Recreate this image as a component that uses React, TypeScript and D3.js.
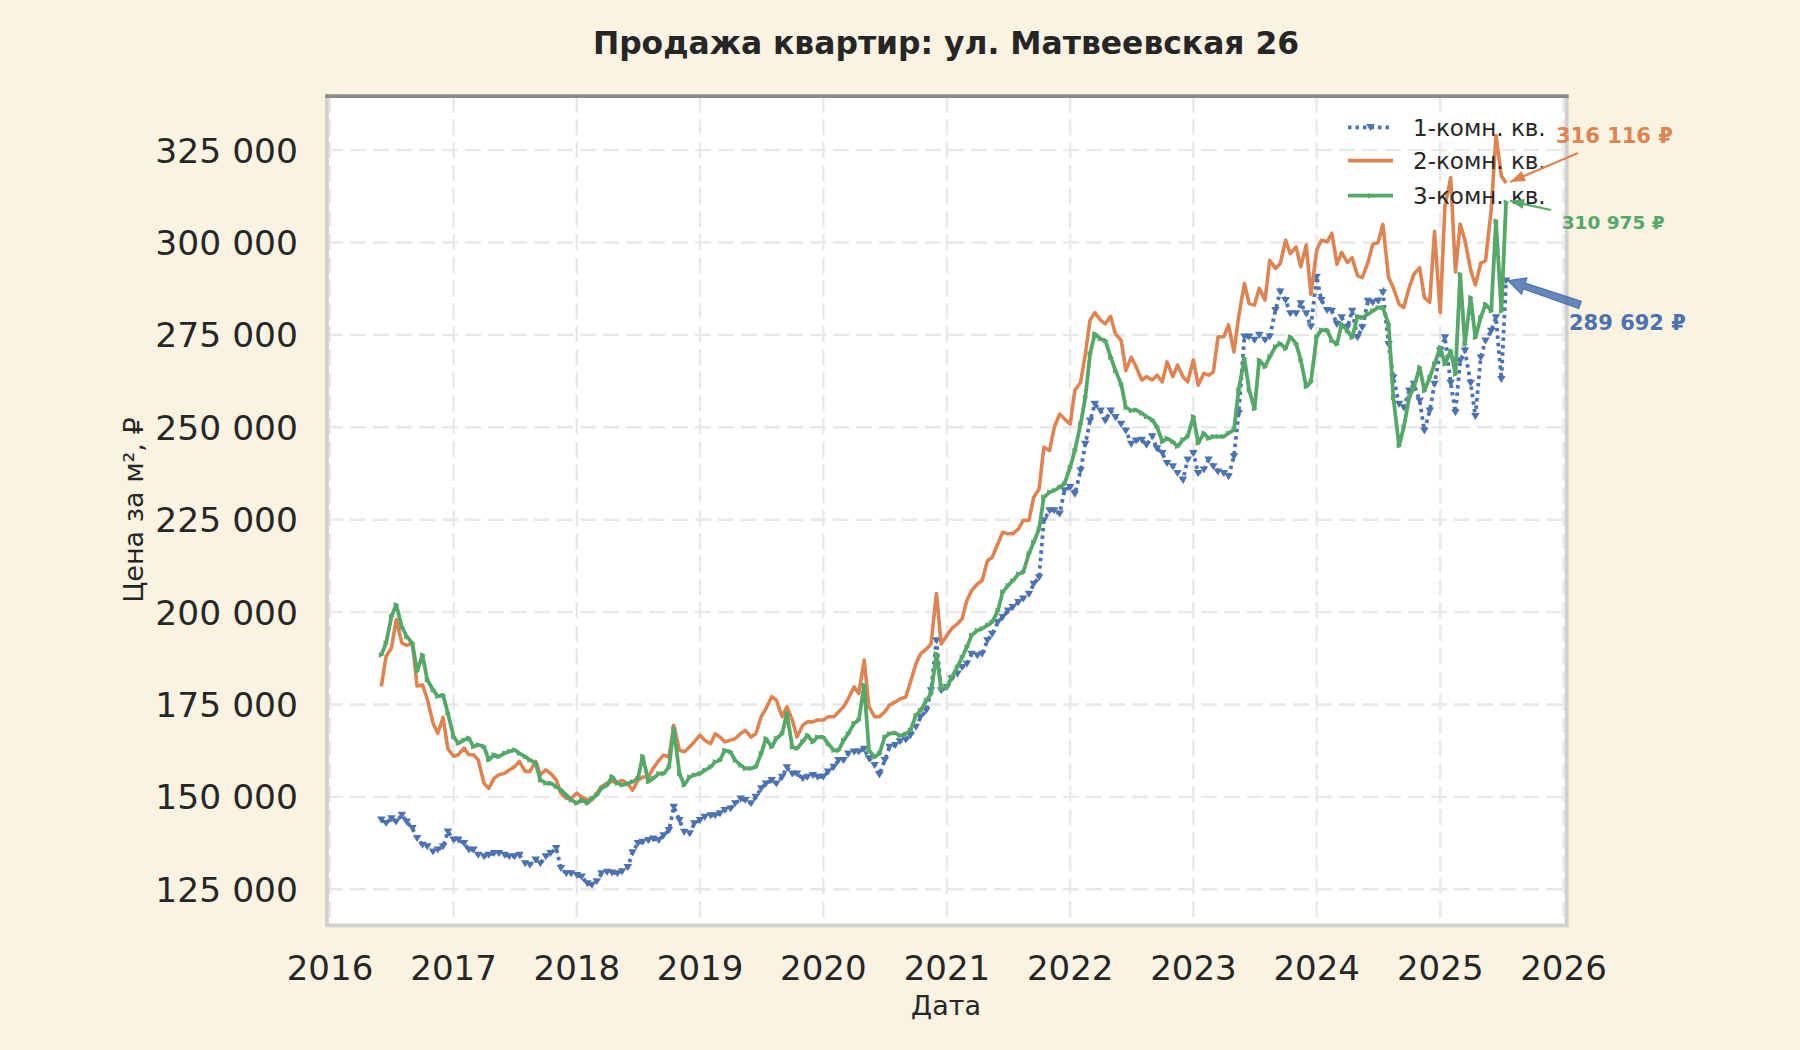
import * as d3 from 'd3';

// half-month observation dates
const dates = [
  '2016-06-01', '2016-06-15', '2016-07-01', '2016-07-15', '2016-08-01', '2016-08-15', '2016-09-01', '2016-09-15', '2016-10-01', '2016-10-15', '2016-11-01', '2016-11-15', '2016-12-01', '2016-12-15',
  '2017-01-01', '2017-01-15', '2017-02-01', '2017-02-15', '2017-03-01', '2017-03-15', '2017-04-01', '2017-04-15', '2017-05-01', '2017-05-15', '2017-06-01', '2017-06-15', '2017-07-01', '2017-07-15', '2017-08-01', '2017-08-15', '2017-09-01', '2017-09-15', '2017-10-01', '2017-10-15', '2017-11-01', '2017-11-15', '2017-12-01', '2017-12-15',
  '2018-01-01', '2018-01-15', '2018-02-01', '2018-02-15', '2018-03-01', '2018-03-15', '2018-04-01', '2018-04-15', '2018-05-01', '2018-05-15', '2018-06-01', '2018-06-15', '2018-07-01', '2018-07-15', '2018-08-01', '2018-08-15', '2018-09-01', '2018-09-15', '2018-10-01', '2018-10-15', '2018-11-01', '2018-11-15', '2018-12-01', '2018-12-15',
  '2019-01-01', '2019-01-15', '2019-02-01', '2019-02-15', '2019-03-01', '2019-03-15', '2019-04-01', '2019-04-15', '2019-05-01', '2019-05-15', '2019-06-01', '2019-06-15', '2019-07-01', '2019-07-15', '2019-08-01', '2019-08-15', '2019-09-01', '2019-09-15', '2019-10-01', '2019-10-15', '2019-11-01', '2019-11-15', '2019-12-01', '2019-12-15',
  '2020-01-01', '2020-01-15', '2020-02-01', '2020-02-15', '2020-03-01', '2020-03-15', '2020-04-01', '2020-04-15', '2020-05-01', '2020-05-15', '2020-06-01', '2020-06-15', '2020-07-01', '2020-07-15', '2020-08-01', '2020-08-15', '2020-09-01', '2020-09-15', '2020-10-01', '2020-10-15', '2020-11-01', '2020-11-15', '2020-12-01', '2020-12-15',
  '2021-01-01', '2021-01-15', '2021-02-01', '2021-02-15', '2021-03-01', '2021-03-15', '2021-04-01', '2021-04-15', '2021-05-01', '2021-05-15', '2021-06-01', '2021-06-15', '2021-07-01', '2021-07-15', '2021-08-01', '2021-08-15', '2021-09-01', '2021-09-15', '2021-10-01', '2021-10-15', '2021-11-01', '2021-11-15', '2021-12-01', '2021-12-15',
  '2022-01-01', '2022-01-15', '2022-02-01', '2022-02-15', '2022-03-01', '2022-03-15', '2022-04-01', '2022-04-15', '2022-05-01', '2022-05-15', '2022-06-01', '2022-06-15', '2022-07-01', '2022-07-15', '2022-08-01', '2022-08-15', '2022-09-01', '2022-09-15', '2022-10-01', '2022-10-15', '2022-11-01', '2022-11-15', '2022-12-01', '2022-12-15',
  '2023-01-01', '2023-01-15', '2023-02-01', '2023-02-15', '2023-03-01', '2023-03-15', '2023-04-01', '2023-04-15', '2023-05-01', '2023-05-15', '2023-06-01', '2023-06-15', '2023-07-01', '2023-07-15', '2023-08-01', '2023-08-15', '2023-09-01', '2023-09-15', '2023-10-01', '2023-10-15', '2023-11-01', '2023-11-15', '2023-12-01', '2023-12-15',
  '2024-01-01', '2024-01-15', '2024-02-01', '2024-02-15', '2024-03-01', '2024-03-15', '2024-04-01', '2024-04-15', '2024-05-01', '2024-05-15', '2024-06-01', '2024-06-15', '2024-07-01', '2024-07-15', '2024-08-01', '2024-08-15', '2024-09-01', '2024-09-15', '2024-10-01', '2024-10-15', '2024-11-01', '2024-11-15', '2024-12-01', '2024-12-15',
  '2025-01-01', '2025-01-15', '2025-02-01', '2025-02-15', '2025-03-01', '2025-03-15', '2025-04-01', '2025-04-15', '2025-05-01', '2025-05-15', '2025-06-01', '2025-06-15', '2025-07-01', '2025-07-15',
];

// 1-комн. кв., руб/м²
const oneRoom = [
  143800, 142900, 144200, 143300, 145100, 143300, 141500, 138800, 137000, 136600, 135200, 135700, 136600, 140600,
  138400, 138400, 137500, 135700, 135700, 134300, 133900, 134300, 134800, 134800, 134300, 133900, 133900, 134300, 132000, 131600, 133000, 132000, 133900, 134800, 136100, 130700, 129300, 129300,
  128800, 128400, 126600, 126200, 127100, 129300, 129700, 129500, 129300, 129800, 131000, 135000, 137500, 137800, 138300, 138700, 138300, 139600, 141000, 147300, 143700, 140500, 140100, 142800,
  143700, 144600, 145000, 145000, 145500, 146400, 146800, 148200, 149500, 149100, 148200, 150000, 152300, 153600, 154500, 153600, 155400, 158000, 156300, 156300, 155000, 155400, 155900, 155400,
  155400, 156800, 158100, 159900, 159900, 161700, 162200, 162200, 163000, 160400, 158600, 156000, 159900, 163500, 164000, 165000, 165500, 166600, 168900, 171600, 173400, 178800, 192300, 178800,
  179700, 182000, 183300, 185100, 186000, 188700, 188300, 188700, 192300, 194100, 197300, 198600, 200400, 201300, 202700, 203600, 204900, 207600, 209400, 224800, 227500, 227500, 226600, 232900,
  233800, 232000, 238300, 245500, 251800, 256300, 254500, 251800, 254500, 252700, 250900, 249100, 245500, 246400, 246600, 245200, 247500, 244300, 243000, 240300, 239400, 237600, 235800, 241200,
  243000, 237600, 238500, 241200, 239400, 238000, 237600, 236700, 242100, 253800, 274500, 274500, 273600, 275000, 273600, 274500, 281700, 286700, 284400, 280800, 280800, 283500, 280800, 277200,
  290700, 284400, 281700, 281500, 277900, 279700, 277000, 281500, 274300, 277000, 284200, 283800, 284200, 286500, 272500, 263500, 256300, 255400, 259900, 261700, 257200, 249100, 254500, 261700,
  270700, 274300, 262000, 254000, 268000, 270700, 262000, 253000, 268900, 273400, 276100, 279700, 263000, 289692,
];

// 2-комн. кв., руб/м²
const twoRoom = [
  179900, 188000, 190300, 198000, 191600, 191000, 191600, 180000, 180300, 176500, 170000, 167200, 171500, 163000,
  161000, 161400, 163200, 161400, 161400, 160000, 153700, 152300, 155000, 156000, 156400, 157300, 158200, 159600, 156900, 156900, 159600, 156000, 157300, 156400, 154600, 151000, 149600, 149600,
  151000, 150000, 149200, 149200, 151000, 152800, 153700, 154200, 153800, 154500, 153600, 151800, 154500, 155400, 155400, 157700, 159900, 161300, 160800, 169400, 162600, 162200, 163500, 164900,
  166700, 165300, 164400, 167100, 166200, 164900, 165300, 165800, 167100, 168000, 166200, 167100, 171700, 173900, 177100, 176200, 171700, 174400, 170800, 166200, 169400, 170300, 170300, 170800,
  170800, 171700, 171700, 173000, 174400, 176600, 179800, 178000, 187000, 174400, 171700, 171700, 173000, 174800, 175700, 176500, 177000, 181000, 186000, 188700, 190000, 191400, 205000, 191400,
  193700, 195500, 196800, 198200, 203100, 205800, 207600, 208500, 213900, 214800, 218500, 221600, 221200, 221200, 222500, 224800, 224800, 231100, 233300, 244600, 243700, 250000, 253600, 252300,
  250900, 260000, 262200, 269900, 279000, 281000, 279000, 278000, 280000, 275300, 273500, 265400, 269000, 266400, 262800, 263700, 262800, 264100, 262300, 267700, 263700, 266800, 263700, 262300,
  268200, 261400, 264600, 264100, 265000, 274500, 274500, 277700, 270400, 279900, 288900, 283500, 283100, 287600, 284400, 295200, 293000, 294300, 300600, 297000, 298800, 293400, 299300, 286000,
  297900, 300600, 300200, 302500, 294100, 297300, 294600, 295900, 291000, 290500, 294600, 299500, 300000, 304900, 290500, 287800, 283300, 282400, 287800, 291400, 293200, 285100, 283800, 303000,
  281000, 310000, 317500, 292000, 305000, 300700, 292600, 288500, 294400, 295000, 308800, 329000, 318000, 316116,
];

// 3-комн. кв., руб/м²
const threeRoom = [
  188400, 191600, 198800, 202000, 196000, 193400, 191600, 184000, 188400, 181700, 179000, 177200, 177500, 172700,
  166300, 164500, 165400, 165900, 163600, 164100, 163600, 160000, 161400, 160900, 161800, 162300, 162700, 161800, 160900, 160000, 159100, 154600, 153700, 153700, 152800, 151900, 150500, 149200,
  148300, 149200, 148300, 149600, 150500, 152300, 153200, 155500, 153700, 153200, 153600, 154100, 155000, 161000, 154100, 155000, 156300, 156300, 158100, 168500, 156300, 153200, 155400, 155900,
  156300, 157200, 158100, 159500, 159900, 162600, 162200, 159900, 158600, 157700, 157700, 158100, 161700, 165800, 163500, 165800, 167100, 172600, 163500, 163100, 164900, 166700, 164900, 166200,
  166200, 164400, 162600, 162600, 165300, 167100, 169900, 170800, 180200, 162600, 160800, 161700, 166200, 167100, 167300, 166600, 167000, 168000, 172000, 173400, 176100, 177900, 188700, 179200,
  179700, 182400, 185100, 187800, 190500, 193700, 195000, 195500, 196400, 197300, 200400, 205400, 207200, 208500, 210300, 210800, 215800, 218900, 222500, 231100, 232400, 232900, 233800, 234700,
  239200, 243700, 250900, 258100, 269900, 275300, 273900, 273500, 269000, 265400, 261700, 255400, 254500, 254700, 253800, 252900, 252000, 250200, 246100, 247000, 246100, 244800, 246600, 247500,
  252900, 245700, 248400, 247000, 247500, 247500, 247500, 248400, 249300, 260100, 268600, 260100, 255000, 268200, 266400, 269100, 271800, 272700, 271300, 274500, 272700, 268200, 261000, 262300,
  274500, 276300, 276300, 273500, 272500, 277900, 276100, 274300, 280000, 279700, 280600, 281500, 282400, 282400, 277900, 258100, 245000, 250000, 258100, 260800, 266200, 259900, 263500, 267100,
  271600, 267100, 270700, 264400, 291400, 272500, 285100, 274300, 279700, 283300, 281500, 305800, 281500, 310975,
];

const seriesNames = ['1-комн. кв.', '2-комн. кв.', '3-комн. кв.'];
const yTicks = [125000, 150000, 175000, 200000, 225000, 250000, 275000, 300000, 325000];
const xTickYears = [2016, 2017, 2018, 2019, 2020, 2021, 2022, 2023, 2024, 2025, 2026];

const W = 1800;
const H = 1050;
const box = { left: 327, right: 1566.7, top: 96.2, bottom: 925.3 };
const bg = '#faf3e1';
const ink = '#262626';
const colors = ['#4c72b0', '#dd8452', '#55a868'];
const font = '"DejaVu Sans", Verdana, sans-serif';

const parse = d3.timeParse('%Y-%m-%d');
const when = dates.map((d) => parse(d)!);

const x = d3
  .scaleTime()
  .domain([new Date(2016, 0, 1), new Date(2026, 0, 1)])
  .range([330, 1563.5]);

const y = d3.scaleLinear().domain([125000, 325000]).range([889.3, 150.1]);

const fmt = (v: number) => d3.format(',')(v).replace(/,/g, ' ');
const money = (v: number) => fmt(v) + ' ₽';

const line = d3
  .line<number>()
  .x((_d, i) => x(when[i]))
  .y((d) => y(d));

// filled triangle at the end of a segment
const head = (x1: number, y1: number, x2: number, y2: number, len: number, half: number) => {
  const a = Math.atan2(y2 - y1, x2 - x1);
  const bx = x2 - len * Math.cos(a);
  const by = y2 - len * Math.sin(a);
  const nx = -Math.sin(a) * half;
  const ny = Math.cos(a) * half;
  return `${x2},${y2} ${bx + nx},${by + ny} ${bx - nx},${by - ny}`;
};

// wide "fancy" arrow: shaft + head as one polygon
const fancy = (x1: number, y1: number, x2: number, y2: number, shaft: number, len: number, half: number) => {
  const a = Math.atan2(y2 - y1, x2 - x1);
  const bx = x2 - len * Math.cos(a);
  const by = y2 - len * Math.sin(a);
  const nx = -Math.sin(a);
  const ny = Math.cos(a);
  const pts = [
    [x1 + nx * shaft, y1 + ny * shaft],
    [bx + nx * shaft * 0.8, by + ny * shaft * 0.8],
    [bx + nx * half, by + ny * half],
    [x2, y2],
    [bx - nx * half, by - ny * half],
    [bx - nx * shaft * 0.8, by - ny * shaft * 0.8],
    [x1 - nx * shaft, y1 - ny * shaft],
  ];
  return pts.map((p) => p.join(',')).join(' ');
};

const Chart = () => {
  const last = when.length - 1;
  const lx = x(when[last]);
  const ends = [oneRoom, twoRoom, threeRoom].map((s) => y(s[last]));

  return (
    <svg width={W} height={H} style={{ display: 'block', fontFamily: font }}>
      <rect width={W} height={H} fill={bg} />
      <rect x={box.left} y={box.top} width={box.right - box.left} height={box.bottom - box.top} fill="#ffffff" />

      {/* grid */}
      <g stroke="#e8e8e8" strokeWidth={2.4} strokeDasharray="16 7">
        {yTicks.map((t) => (
          <line key={t} x1={box.left} x2={box.right} y1={y(t)} y2={y(t)} />
        ))}
        {xTickYears.map((yr) => {
          const px = x(new Date(yr, 0, 1));
          return <line key={yr} x1={px} x2={px} y1={box.top} y2={box.bottom} />;
        })}
      </g>

      {/* 1-комн.: dotted with down triangles */}
      <path d={line(oneRoom)!} fill="none" stroke={colors[0]} strokeWidth={3.8} strokeDasharray="3.5 4" />
      <g fill={colors[0]}>
        {oneRoom.map((v, i) => {
          const px = x(when[i]);
          const py = y(v);
          return <polygon key={i} points={`${px - 4.3},${py - 3.2} ${px + 4.3},${py - 3.2} ${px},${py + 3.8}`} />;
        })}
      </g>

      {/* 2-комн. */}
      <path d={line(twoRoom)!} fill="none" stroke={colors[1]} strokeWidth={3.6} strokeLinejoin="round" />

      {/* 3-комн. with small markers */}
      <path d={line(threeRoom)!} fill="none" stroke={colors[2]} strokeWidth={3.8} strokeLinejoin="round" />
      <g fill={colors[2]}>
        {threeRoom.map((v, i) => {
          const px = x(when[i]);
          const py = y(v);
          return <polygon key={i} points={`${px - 2.5},${py - 2.8} ${px + 3.2},${py} ${px - 2.5},${py + 2.8}`} />;
        })}
      </g>

      {/* spines */}
      <g fill="none" strokeWidth={3.8}>
        <line x1={box.left} x2={box.left} y1={box.top} y2={box.bottom} stroke="#d0d0d0" />
        <line x1={box.right} x2={box.right} y1={box.top} y2={box.bottom} stroke="#d0d0d0" />
        <line x1={box.left - 1.9} x2={box.right + 1.9} y1={box.bottom} y2={box.bottom} stroke="#d0d0d0" />
        <line x1={box.left - 1.9} x2={box.right + 1.9} y1={box.top} y2={box.top} stroke="#8a8a8a" />
      </g>

      {/* y tick labels */}
      <g fontSize={34.5} fill={ink} textAnchor="end">
        {yTicks.map((t) => (
          <text key={t} x={298} y={y(t) + 12.5}>
            {fmt(t)}
          </text>
        ))}
      </g>

      {/* x tick labels */}
      <g fontSize={34} fill={ink} textAnchor="middle">
        {xTickYears.map((yr) => (
          <text key={yr} x={x(new Date(yr, 0, 1))} y={980}>
            {yr}
          </text>
        ))}
      </g>

      <text x={946} y={1015} fontSize={27} fill={ink} textAnchor="middle">
        Дата
      </text>
      <text transform="translate(143,510) rotate(-90)" fontSize={27} fill={ink} textAnchor="middle">
        Цена за м², ₽
      </text>

      <text x={946} y={54} fontSize={31.4} fontWeight="bold" fill={ink} textAnchor="middle">
        Продажа квартир: ул. Матвеевская 26
      </text>

      {/* legend */}
      <g>
        <line x1={1348} x2={1393} y1={127.3} y2={127.3} stroke={colors[0]} strokeWidth={3.8} strokeDasharray="3.5 4" />
        <polygon points="1366.2,124.1 1374.8,124.1 1370.5,131.1" fill={colors[0]} />
        <line x1={1348} x2={1393} y1={160.7} y2={160.7} stroke={colors[1]} strokeWidth={3.8} />
        <line x1={1348} x2={1393} y1={195.7} y2={195.7} stroke={colors[2]} strokeWidth={3.8} />
        <polygon points="1368,192.9 1373.7,195.7 1368,198.5" fill={colors[2]} />
        {seriesNames.map((n, i) => (
          <text key={n} x={1413} y={[135.5, 169, 204][i]} fontSize={23} fill={ink}>
            {n}
          </text>
        ))}
      </g>

      {/* last-value annotations */}
      <g fontWeight="bold">
        <line x1={1578} y1={153} x2={lx + 4} y2={ends[1] - 1} stroke={colors[1]} strokeWidth={2.2} />
        <polygon points={head(1578, 153, lx + 4, ends[1] - 1, 15, 5.5)} fill={colors[1]} />
        <text x={1556} y={143.4} fontSize={21} fill={colors[1]}>
          {money(twoRoom[last])}
        </text>

        <line x1={1551} y1={210} x2={lx + 4} y2={ends[2] - 1} stroke={colors[2]} strokeWidth={2.2} />
        <polygon points={head(1551, 210, lx + 4, ends[2] - 1, 14, 5)} fill={colors[2]} />
        <text x={1561.7} y={228.5} fontSize={18.5} fill={colors[2]}>
          {money(threeRoom[last])}
        </text>

        <polygon
          points={fancy(1580, 305, lx + 2, ends[0], 3.8, 17, 8.5)}
          fill={colors[0]}
          fillOpacity={0.85}
          stroke={colors[0]}
          strokeWidth={1.2}
        />
        <text x={1569} y={330.4} fontSize={21} fill={colors[0]}>
          {money(oneRoom[last])}
        </text>
      </g>
    </svg>
  );
};

export default function App() {
  return (
    <div style={{ position: 'fixed', left: 0, top: 0, width: W, height: H, background: bg }}>
      <Chart />
    </div>
  );
}
